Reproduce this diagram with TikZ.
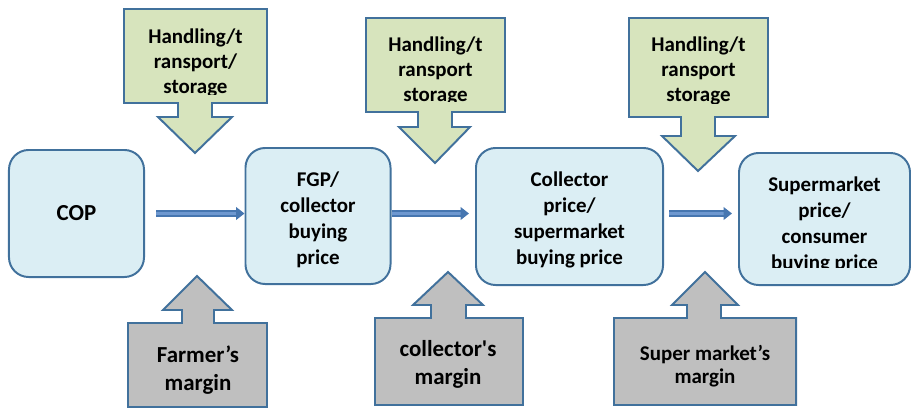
\documentclass[tikz,border=0pt]{standalone}
\usepackage{fontspec}
\setmainfont{Carlito}
\usetikzlibrary{arrows.meta}
\definecolor{edgeblue}{RGB}{65,113,156}
\definecolor{boxblue}{RGB}{219,238,244}
\definecolor{costgreen}{RGB}{215,228,189}
\definecolor{margingray}{RGB}{191,191,191}
\definecolor{flowblue}{RGB}{70,118,176}
\definecolor{flowlight}{RGB}{110,152,208}
\tikzset{
  pricebox/.style={draw=edgeblue, fill=boxblue, line width=1.4pt, rounded corners=14pt},
  callout/.style={draw=edgeblue, line width=1.4pt, line join=miter},
  boxtext/.style={font=\fontsize{14.9}{18.4}\selectfont\bfseries, align=center, inner sep=0pt},
  costtext/.style={font=\fontsize{14.9}{17.7}\selectfont\bfseries, align=center, inner sep=0pt},
  margintext/.style={font=\fontsize{16.3}{19.8}\selectfont\bfseries, align=center, inner sep=0pt},
  flowarrow/.style={draw=flowblue, double=flowlight, line width=1.3pt, double distance=1.8pt,
    -{Triangle[length=6pt,width=9pt]}}
}
\begin{document}
\begin{tikzpicture}[x=0.025cm, y=-0.025cm]
    \useasboundingbox (0,0) rectangle (911,408);
    % price boxes
    \node[pricebox, minimum width=3.375cm, minimum height=3.175cm] (cop) at (76.5,213.5) {};
    \node[pricebox, minimum width=3.625cm, minimum height=3.4cm] (fgp) at (318,216) {};
    \node[pricebox, minimum width=4.675cm, minimum height=3.425cm] (colp) at (569.5,216.5) {};
    \node[pricebox, minimum width=4.275cm, minimum height=3.3cm] (supp) at (824.5,219) {};
    \node[boxtext, font=\fontsize{16.3}{19.8}\selectfont\bfseries] (coptxt) at (cop) {COP};
    \node[boxtext] (fgptxt) at (318,220) {FGP/\\collector\\buying\\price};
    \begin{scope}
      \clip (476,148) rectangle (663,267);
      \node[boxtext] (colptxt) at (569.5,220) {Collector\\price/\\supermarket\\buying price};
    \end{scope}
    \begin{scope}
      \clip (739,153) rectangle (910,267);
      \node[boxtext] (supptxt) at (824.5,225) {Supermarket\\price/\\consumer\\buying price};
    \end{scope}
    % flow between the boxes
    \draw[flowarrow, shorten <=0.275cm] (cop.east) -- (cop.east -| fgp.west);
    \draw[flowarrow, shorten >=0.15cm] (fgp.east |- cop.east) -- (colp.west |- cop.east);
    \draw[flowarrow, shorten <=0.125cm, shorten >=0.15cm] (colp.east |- cop.east) -- (supp.west |- cop.east);
    % handling/transport/storage (down)
    \draw[callout, fill=costgreen] (124,9) -- (267,9) -- (267,103) -- (212,103) -- (212,117) -- (232,117)
      -- (195,153) -- (158,117) -- (178,117) -- (178,103) -- (124,103) -- cycle;
    \draw[callout, fill=costgreen] (366,18) -- (505,18) -- (505,112) -- (452,112) -- (452,127) -- (470,127)
      -- (435,163) -- (399,127) -- (418,127) -- (418,112) -- (366,112) -- cycle;
    \draw[callout, fill=costgreen] (629,18) -- (768,18) -- (768,117) -- (715,117) -- (715,136) -- (735,136)
      -- (698,171) -- (662,136) -- (681,136) -- (681,117) -- (629,117) -- cycle;
    \begin{scope}
      \clip (124,9) rectangle (267,94);
      \node[costtext] (cost1) at (195.5,63) {Handling/t\\ransport/\\storage};
    \end{scope}
    \begin{scope}
      \clip (366,18) rectangle (505,101);
      \node[costtext] (cost2) at (435.5,71) {Handling/t\\ransport\\storage};
    \end{scope}
    \begin{scope}
      \clip (629,18) rectangle (768,103);
      \node[costtext] (cost3) at (698.5,71) {Handling/t\\ransport\\storage};
    \end{scope}
    % margins (up)
    \draw[callout, fill=margingray] (128,407) -- (128,323) -- (182,323) -- (182,310) -- (163,310) -- (197,276)
      -- (232,310) -- (214,310) -- (214,323) -- (267,323) -- (267,407) -- cycle;
    \draw[callout, fill=margingray] (375,405) -- (375,318) -- (431,318) -- (431,305) -- (413,305) -- (448,272)
      -- (483,305) -- (466,305) -- (466,318) -- (523,318) -- (523,405) -- cycle;
    \draw[callout, fill=margingray] (614,405) -- (614,318) -- (687,318) -- (687,305) -- (672,305) -- (705,272)
      -- (738,305) -- (721,305) -- (721,318) -- (796,318) -- (796,405) -- cycle;
    \node[margintext] (marg1) at (198,370) {Farmer’s\\margin};
    \node[margintext] (marg2) at (448,364) {collector\textquotesingle s\\margin};
    \node[costtext, font=\fontsize{14.9}{16.3}\selectfont\bfseries] (marg3) at (705,366) {Super market’s\\margin};
\end{tikzpicture}
\end{document}
